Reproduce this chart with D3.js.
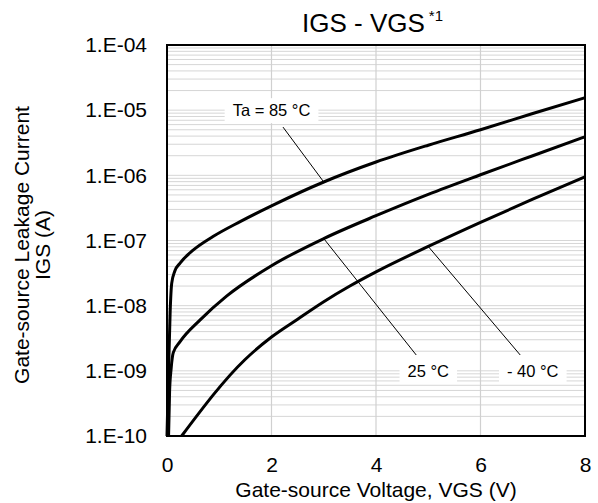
<!DOCTYPE html>
<html>
<head>
<meta charset="utf-8">
<script src="https://cdn.jsdelivr.net/npm/d3@7"></script>
<style>
  body { margin: 0; background: #fff; }
  svg text { font-family: "Liberation Sans", Arial, sans-serif; fill: #000; }
</style>
</head>
<body>
<svg id="chart"></svg>
<script>
// gate voltage (V) and leakage current (A)
const vgs85 = [0, 0.03, 0.06, 0.09, 0.15, 0.25, 0.5, 0.88, 1.4, 2, 3, 4, 5, 6, 7, 8];
const igs85 = [1e-10, 1.0e-9, 7.9e-9, 2.2e-8, 3.4e-8, 4.5e-8, 7.1e-8, 1.15e-7, 1.95e-7, 3.4e-7, 7.9e-7, 1.6e-6, 2.9e-6, 5.0e-6, 8.9e-6, 1.55e-5];

const vgs25 = [0.03, 0.05, 0.08, 0.12, 0.25, 0.63, 1.14, 2, 3, 4, 5, 6, 7, 8];
const igs25 = [1e-10, 5e-10, 1.1e-9, 1.9e-9, 2.8e-9, 6.0e-9, 1.4e-8, 4.1e-8, 1.07e-7, 2.4e-7, 5.1e-7, 1.02e-6, 2.0e-6, 3.9e-6];

const vgsM40 = [0.28, 1.49, 2, 2.5, 3, 3.5, 4, 5, 6, 7, 8];
const igsM40 = [1e-10, 1.48e-9, 3.3e-9, 6.2e-9, 1.15e-8, 2.0e-8, 3.3e-8, 8.1e-8, 1.9e-7, 4.3e-7, 9.5e-7];

const xTicks = [0, 2, 4, 6, 8];
const yTicks = [1e-10, 1e-9, 1e-8, 1e-7, 1e-6, 1e-5, 1e-4];

// curve labels: label centre, leader start, leader end (all in data units)
const labelText = ["Ta = 85 °C", "25 °C", "- 40 °C"];
const labelV = [2.0, 5.0, 7.0];
const labelI = [1e-5, 1e-9, 1e-9];
const leadFromV = [2.22, 4.77, 6.76];
const leadFromI = [5.5e-6, 1.75e-9, 1.75e-9];
const leadToV = [3.0, 3.0, 5.0];

const W = 598, H = 503;
const margin = {top: 45, right: 13, bottom: 67, left: 167};
const width = W - margin.left - margin.right,
      height = H - margin.top - margin.bottom;

const svg = d3.select("#chart").attr("width", W).attr("height", H);
const g = svg.append("g").attr("transform", `translate(${margin.left}, ${margin.top})`);

const x = d3.scaleLinear().domain([0, 8]).range([0, width]);
const y = d3.scaleLog().domain([1e-10, 1e-4]).range([height, 0]);

// horizontal grid: every 1..9 x decade
const minor = [];
for (let e = -10; e < -4; e++) for (let k = 1; k <= 9; k++) minor.push(k * Math.pow(10, e));
minor.push(1e-4);
g.append("g").selectAll("line")
  .data(minor)
  .join("line")
  .attr("x1", 0).attr("x2", width)
  .attr("y1", d => y(d)).attr("y2", d => y(d))
  .attr("stroke", "#d6d6d6")
  .attr("stroke-width", 1);

// vertical grid
g.append("g").selectAll("line")
  .data(xTicks.slice(1, -1))
  .join("line")
  .attr("x1", d => x(d)).attr("x2", d => x(d))
  .attr("y1", 0).attr("y2", height)
  .attr("stroke", "#d0d0d0")
  .attr("stroke-width", 1.2);

// axes (labels only)
const fmt = d => "1.E-" + String(-Math.round(Math.log10(d))).padStart(2, "0");
const yAxis = g.append("g")
  .call(d3.axisLeft(y).tickValues(yTicks).tickFormat(fmt).tickSize(0).tickPadding(20));
yAxis.select(".domain").remove();
yAxis.selectAll("text").style("font-size", "21px");

const xAxis = g.append("g")
  .attr("transform", `translate(0, ${height})`)
  .call(d3.axisBottom(x).tickValues(xTicks).tickFormat(d3.format("d")).tickSize(0).tickPadding(21));
xAxis.select(".domain").remove();
xAxis.selectAll("text").style("font-size", "21px");

// label boxes + leaders (drawn under the curves)
const lab = g.append("g");
labelText.forEach((t, i) => {
  const txt = lab.append("text")
    .attr("x", x(labelV[i]))
    .attr("y", y(labelI[i]))
    .attr("dy", "0.35em")
    .attr("text-anchor", "middle")
    .style("font-size", "16.5px")
    .text(t);
  const bb = txt.node().getBBox();
  lab.insert("rect", "text")
    .attr("x", bb.x - 8).attr("y", y(labelI[i]) - 12)
    .attr("width", bb.width + 16).attr("height", 25)
    .attr("fill", "#fff");
});

const series = [[vgs85, igs85], [vgs25, igs25], [vgsM40, igsM40]];
const interp = (vs, is, v) => {
  for (let j = 1; j < vs.length; j++) {
    if (v <= vs[j]) {
      const t = (v - vs[j - 1]) / (vs[j] - vs[j - 1]);
      return Math.pow(10, Math.log10(is[j - 1]) + t * (Math.log10(is[j]) - Math.log10(is[j - 1])));
    }
  }
  return is[is.length - 1];
};
labelText.forEach((t, i) => {
  const [vs, is] = series[i];
  g.append("line")
    .attr("x1", x(leadFromV[i])).attr("y1", y(leadFromI[i]))
    .attr("x2", x(leadToV[i])).attr("y2", y(interp(vs, is, leadToV[i])))
    .attr("stroke", "#000")
    .attr("stroke-width", 1);
});

// curves
const line = d3.line()
  .x(d => x(d[0]))
  .y(d => y(d[1]))
  .curve(d3.curveMonotoneX);
series.forEach(([vs, is]) => {
  g.append("path")
    .datum(vs.map((v, j) => [v, is[j]]))
    .attr("d", line)
    .attr("fill", "none")
    .attr("stroke", "#000")
    .attr("stroke-width", 3)
    .attr("stroke-linejoin", "round");
});

// plot frame
g.append("rect")
  .attr("width", width).attr("height", height)
  .attr("fill", "none")
  .attr("stroke", "#000")
  .attr("stroke-width", 2);

// title
const title = svg.append("text")
  .attr("x", 302).attr("y", 32)
  .style("font-size", "26px");
title.append("tspan").text("IGS - VGS");
title.append("tspan").attr("dx", 4).attr("dy", -11).style("font-size", "15px").text("*1");

// axis titles
svg.append("text")
  .attr("x", margin.left + width / 2).attr("y", 497)
  .attr("text-anchor", "middle")
  .style("font-size", "21px")
  .text("Gate-source Voltage, VGS (V)");

svg.append("text")
  .attr("transform", "translate(29, 245) rotate(-90)")
  .attr("text-anchor", "middle")
  .style("font-size", "21px")
  .text("Gate-source Leakage Current");
svg.append("text")
  .attr("transform", "translate(50, 245) rotate(-90)")
  .attr("text-anchor", "middle")
  .style("font-size", "21px")
  .text("IGS (A)");
</script>
</body>
</html>
